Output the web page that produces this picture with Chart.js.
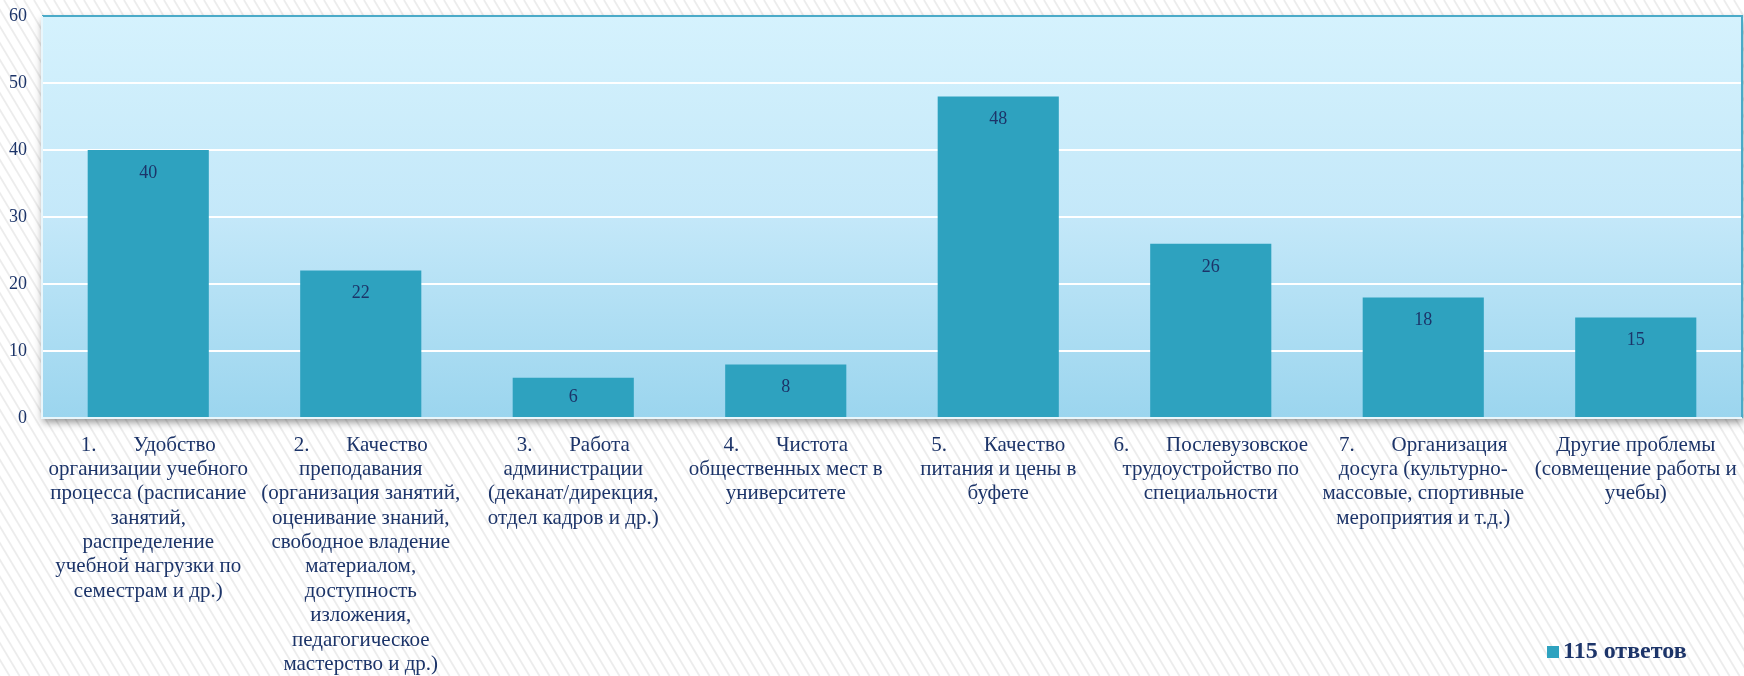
<!DOCTYPE html>
<html>
<head>
<meta charset="utf-8">
<script src="https://cdn.jsdelivr.net/npm/chart.js@4"></script>
<style>
  html, body { margin: 0; padding: 0; background: #fff; }
  #wrap { width: 1744px; height: 676px; }
</style>
</head>
<body>
<div id="wrap"><canvas id="chart" width="1744" height="676"></canvas></div>
<script>
var GAP = '\u00a0\u00a0\u00a0\u00a0\u00a0\u00a0\u00a0';
var CATEGORIES = [
  ['1.' + GAP + 'Удобство', 'организации учебного', 'процесса (расписание', 'занятий,', 'распределение', 'учебной нагрузки по', 'семестрам и др.)'],
  ['2.' + GAP + 'Качество', 'преподавания', '(организация занятий,', 'оценивание знаний,', 'свободное владение', 'материалом,', 'доступность', 'изложения,', 'педагогическое', 'мастерство и др.)'],
  ['3.' + GAP + 'Работа', 'администрации', '(деканат/дирекция,', 'отдел кадров и др.)'],
  ['4.' + GAP + 'Чистота', 'общественных мест в', 'университете'],
  ['5.' + GAP + 'Качество', 'питания и цены в', 'буфете'],
  ['6.' + GAP + 'Послевузовское', 'трудоустройство по', 'специальности'],
  ['7.' + GAP + 'Организация', 'досуга (культурно-', 'массовые, спортивные', 'мероприятия и т.д.)'],
  ['Другие проблемы', '(совмещение работы и', 'учебы)']
];
var VALUES = [40, 22, 6, 8, 48, 26, 18, 15];
var SERIES_NAME = '115 ответов';
var Y_MAX = 60;
var Y_STEP = 10;

var BAR_COLOR = '#2ea2bf';
var TEXT_COLOR = '#1c3469';
var FONT = '"Liberation Serif", "Times New Roman", serif';

var backdrop = {
  id: 'backdrop',
  beforeDraw: function(chart) {
    var c = chart.ctx, a = chart.chartArea;
    var w = chart.width, h = chart.height;
    c.save();
    c.fillStyle = '#ffffff';
    c.fillRect(0, 0, w, h);
    // diagonal stripes
    c.strokeStyle = 'rgba(200,200,200,0.35)';
    c.lineWidth = 1.8;
    c.beginPath();
    for (var x = -h; x < w; x += 10) {
      c.moveTo(x, 0);
      c.lineTo(x + h * 0.6, h);
    }
    c.stroke();
    // plot area with shadow
    var g = c.createLinearGradient(0, a.top, 0, a.bottom);
    g.addColorStop(0, '#d5f2fd');
    g.addColorStop(0.5, '#c4e8f9');
    g.addColorStop(1, '#9bd5ee');
    c.shadowColor = 'rgba(0,0,0,0.45)';
    c.shadowBlur = 8;
    c.shadowOffsetX = 1;
    c.shadowOffsetY = 4;
    c.fillStyle = g;
    c.fillRect(a.left, a.top, a.right - a.left, a.bottom - a.top);
    c.restore();
  },
  afterDraw: function(chart) {
    var c = chart.ctx, a = chart.chartArea;
    c.save();
    // frame
    c.strokeStyle = '#4aaac8';
    c.lineWidth = 2;
    c.beginPath();
    c.moveTo(a.left, a.top);
    c.lineTo(a.right, a.top);
    c.lineTo(a.right, a.bottom);
    c.stroke();
    c.strokeStyle = '#e9f6fb';
    c.beginPath();
    c.moveTo(a.left, a.top);
    c.lineTo(a.left, a.bottom);
    c.lineTo(a.right, a.bottom);
    c.stroke();
    // legend
    var ds = chart.data.datasets[0];
    var lx = a.right - 195, ly = 652;
    c.fillStyle = ds.backgroundColor;
    c.fillRect(lx, ly - 6, 12, 12);
    c.fillStyle = TEXT_COLOR;
    c.font = 'bold 24px ' + FONT;
    c.textAlign = 'left';
    c.textBaseline = 'middle';
    c.fillText(ds.label, lx + 16, ly);
    c.restore();
  },
  afterDatasetsDraw: function(chart) {
    var c = chart.ctx;
    var meta = chart.getDatasetMeta(0);
    c.save();
    c.fillStyle = TEXT_COLOR;
    c.font = '18px ' + FONT;
    c.textAlign = 'center';
    c.textBaseline = 'middle';
    meta.data.forEach(function(bar, i) {
      var off = Math.min(23, (bar.base - bar.y) / 2);
      c.fillText(String(chart.data.datasets[0].data[i]), bar.x, bar.y + off);
    });
    c.restore();
  }
};

new Chart(document.getElementById('chart'), {
  type: 'bar',
  data: {
    labels: CATEGORIES,
    datasets: [{
      label: SERIES_NAME,
      data: VALUES,
      backgroundColor: BAR_COLOR,
      borderWidth: 0,
      categoryPercentage: 1,
      barPercentage: 0.57
    }]
  },
  options: {
    responsive: false,
    animation: false,
    layout: { padding: { top: 16, right: 2, left: 0, bottom: 0 } },
    plugins: {
      legend: { display: false },
      tooltip: { enabled: false }
    },
    scales: {
      x: {
        grid: { display: false, drawTicks: false },
        border: { display: false },
        ticks: {
          color: TEXT_COLOR,
          font: { family: FONT, size: 21, lineHeight: 1.16 },
          padding: 15,
          maxRotation: 0,
          autoSkip: false
        },
        afterFit: function(s) {
          s.height = 258;
          s.paddingLeft = 0;
          s.paddingRight = 0;
        }
      },
      y: {
        min: 0,
        max: Y_MAX,
        grid: {
          color: function(ctx) { return ctx.tick.value === 0 || ctx.tick.value === Y_MAX ? 'rgba(0,0,0,0)' : '#ffffff'; },
          lineWidth: 2,
          drawTicks: false
        },
        border: { display: false },
        ticks: {
          stepSize: Y_STEP,
          color: TEXT_COLOR,
          font: { family: FONT, size: 18 },
          padding: 15
        },
        afterFit: function(s) {
          s.width = 42;
          s.paddingTop = 0;
          s.paddingBottom = 0;
        }
      }
    }
  },
  plugins: [backdrop]
});
</script>
</body>
</html>
